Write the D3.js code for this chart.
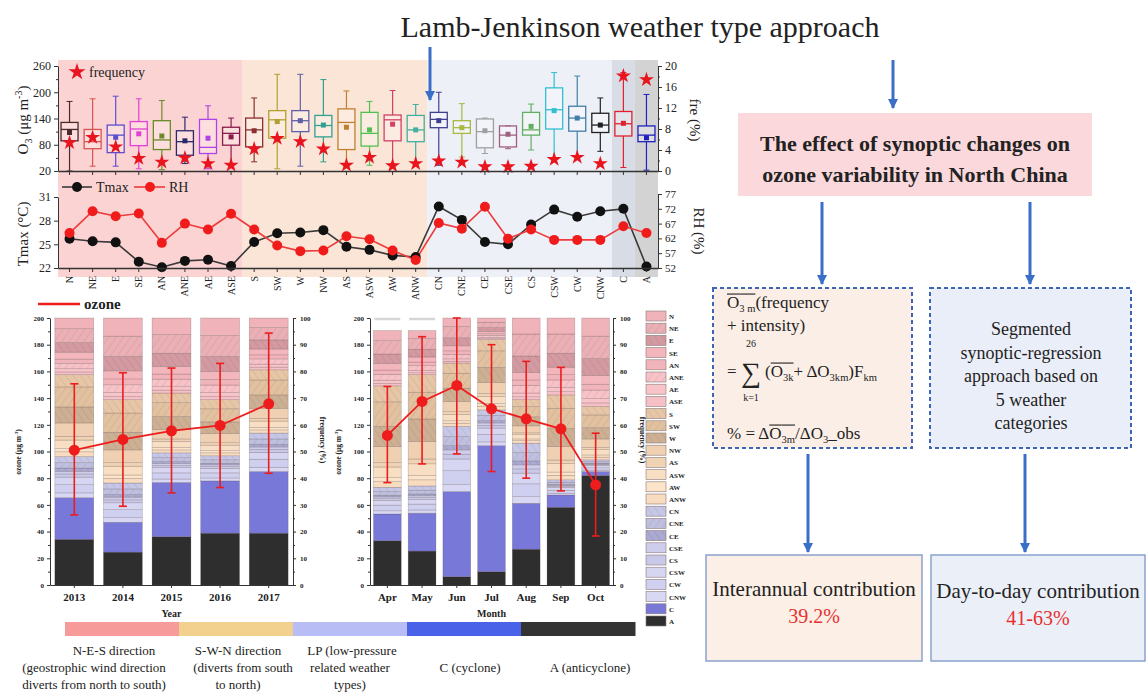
<!DOCTYPE html>
<meta charset="utf-8">
<script src="https://d3js.org/d3.v7.min.js"></script>
<style>
body { margin: 0; background: #fff; }
svg, svg text { font-family: "Liberation Serif", "DejaVu Serif", serif !important; }
svg text { fill: #222; }
.ax path, .ax line { stroke: #333; }
</style>
<body>
<script>

// ---- data ----
var types = ["N","NE","E","SE","AN","ANE","AE","ASE","S","SW","W","NW","AS","ASW","AW","ANW",
             "CN","CNE","CE","CSE","CS","CSW","CW","CNW","C","A"];

// O3 box plots (ug m-3) per weather type
var boxLow  = [20,31,31,25,23,37,25,37,41,25,31,41,30,33,37,37,33,52,60,71,68,48,52,65,28,22];
var boxQ1   = [89,71,62,78,69,56,60,79,75,95,110,98,69,77,89,87,119,106,73,75,102,116,111,108,100,87];
var boxMed  = [115,87,102,116,91,87,74,106,114,137,135,124,131,106,137,114,138,119,110,102,114,160,141,125,128,102];
var boxQ3   = [131,115,125,133,135,112,138,120,141,158,158,147,162,154,148,147,154,135,139,123,154,210,168,152,156,123];
var boxHigh = [179,185,191,185,181,143,169,141,187,241,241,229,203,179,204,172,200,174,141,123,173,245,237,187,245,195];
var boxMean = [108,97,97,105,100,89,95,98,112,133,135,125,120,114,127,114,135,119,112,104,122,158,141,125,129,96];
var typeFreq = [5.4,6.4,4.6,2.4,1.7,2.5,1.4,1.1,4.2,6.2,5.6,4.2,1.1,2.6,1.0,1.4,1.9,1.7,0.8,0.8,0.9,2.2,2.6,1.4,18.1,17.4];

var tmax = [25.7,25.4,25.25,22.8,22.1,22.9,23.05,22.25,25.3,26.4,26.5,26.8,24.7,24.3,23.6,23.4,29.8,28.1,25.3,25.0,27.5,29.4,28.5,29.2,29.5,22.2];
var rh   = [63.8,71.2,69.5,70.4,60.5,67,65,70.3,65,59.6,57.7,57.9,62.7,61.7,57.9,54.7,67.2,65.3,72.7,61.9,65,61.5,61.5,61.5,66.1,63.8];

// yearly frequency (%) of each type, same order as types
var years = ["2013","2014","2015","2016","2017"];
var yearFreq = [
  [4.0,5.2,3.6,2.6,1.6,2.0,1.2,1.0, 4.6,7.5,6.0,5.0,1.4,3.2,1.2,1.8, 2.3,2.0,1.2,1.0,1.2,2.8,3.1,1.8, 15.6,17.1],
  [6.8,7.6,5.4,3.0,2.2,2.9,1.5,1.2, 5.0,7.2,6.6,4.8,1.3,3.3,1.3,1.7, 2.2,2.1,1.0,1.0,1.1,2.6,3.0,1.7, 11.2,12.3],
  [6.2,7.0,5.0,2.8,1.9,2.8,1.3,1.1, 3.6,5.2,4.8,3.6,0.9,2.3,0.9,1.1, 1.8,1.5,0.7,0.7,0.8,2.0,2.3,1.3, 20.3,18.1],
  [6.6,7.8,5.6,3.0,2.1,2.8,1.5,1.2, 3.4,4.9,4.4,3.4,0.9,2.1,0.8,1.1, 1.5,1.3,0.6,0.6,0.7,1.7,1.9,1.1, 19.6,19.4],
  [3.6,4.6,3.4,2.2,1.5,2.0,1.1,1.0, 3.8,5.6,5.0,3.8,1.0,2.4,0.9,1.2, 2.2,2.0,1.0,0.9,1.1,2.6,3.0,1.6, 23.1,19.4]
];
var yearOzone = [101,109,115.5,119.5,135.7];
var yearHi    = [150.7,159,162.5,166,188.7];
var yearLo    = [52.5,59,69,73,83.7];

var months = ["Apr","May","Jun","Jul","Aug","Sep","Oct"];
var monthFreq = [
  [3.8,5.0,3.6,2.4,1.6,2.2,1.2,0.9, 6.0,9.2,7.6,6.0,1.6,4.0,1.5,2.1, 1.6,1.4,0.6,0.6,0.7,1.8,2.1,1.2, 10.0,16.6],
  [3.0,4.0,2.9,1.9,1.3,1.8,0.9,0.7, 6.6,10.0,8.4,6.6,1.8,4.4,1.6,2.3, 1.6,1.4,0.7,0.6,0.7,1.8,2.2,1.2, 14.2,12.7],
  [3.2,4.2,3.0,1.9,1.3,1.7,0.9,0.7, 3.8,5.6,5.0,3.8,1.0,2.4,0.9,1.2, 3.8,3.4,1.6,1.6,1.8,4.4,5.2,2.6, 31.9,3.1],
  [1.6,2.0,1.4,0.9,0.6,0.8,0.4,0.4, 4.2,6.2,5.6,4.2,1.1,2.6,1.0,1.4, 2.1,1.9,0.9,0.9,1.0,2.4,2.8,1.4, 47.2,5.0],
  [6.0,8.2,6.2,2.8,2.0,2.9,1.4,1.1, 2.6,3.8,3.4,2.6,0.7,1.6,0.6,1.0, 3.5,3.1,1.5,1.5,1.6,4.0,4.8,2.5, 17.2,13.4],
  [6.0,7.2,5.2,2.8,2.0,2.8,1.6,1.2, 5.0,7.6,6.8,5.0,1.3,3.2,1.2,1.7, 0.9,0.8,0.4,0.4,0.4,1.0,1.2,0.6, 4.6,29.1],
  [6.8,8.4,6.4,3.2,2.2,3.2,1.6,1.3, 3.2,4.8,4.2,3.2,0.8,2.0,0.8,1.0, 0.7,0.6,0.3,0.3,0.3,0.8,0.9,0.5, 1.5,41.0]
];
var monthOzone = [112,137.5,149.5,132,124.5,117,75];
var monthHi    = [148.7,186,200,180,167.5,163,113.7];
var monthLo    = [76.7,90.7,98.2,85,80,70.5,36.7];

var groupNames = ["N-E-S direction","S-W-N direction","LP (low-pressure","C (cyclone)","A (anticyclone)"];

// ---- styles ----
var SERIF = '"Liberation Serif", "DejaVu Serif", serif';
var boxColor = ["#4a2a2a","#d9534f","#5b4fd0","#e040d8","#6b8a2a","#2a2a6a","#b040e8","#8a1a4a",
                "#8a3030","#b0a030","#6060a8","#30a090","#c08030","#50c050","#d04068","#40b0a0",
                "#404090","#a8b840","#a0a0a0","#a06080","#60b060","#30c0d0","#4080a8","#202020","#e02030","#2020c0"];
var segColor = ["#efb3b9","#eab0b6","#d49aa2","#f3b6bd","#f2b4bb","#f7c2c8","#f8c4ca","#f6c0c7",
                "#e6c6a6","#e2c1a0","#cdb094","#efd0b2","#f0d3b4","#f8dfc3","#fbe4c9","#f7dcc0",
                "#c6c6e6","#bfc0e0","#aaaad2","#ceceec","#c8c8e8","#d6d6f2","#cfcff0","#d8d8f4","#7878d8","#2e2e2e"];
var hatched = {NE:1, E:1, ANE:1, S:1, SW:1, W:1, CN:1, CNE:1, CE:1};

var W = 1146, H = 698;
var svg = d3.select("body").append("svg").attr("width", W).attr("height", H)
    .attr("font-family", SERIF).style("font-family", SERIF);
svg.append("rect").attr("width", W).attr("height", H).attr("fill", "#fff");
var defs = svg.append("defs");

defs.append("marker").attr("id", "arr")
    .attr("viewBox", "0 0 10 10").attr("refX", 9).attr("refY", 5)
    .attr("markerWidth", 3.6).attr("markerHeight", 3.4).attr("orient", "auto")
  .append("path").attr("d", "M0,0L10,5L0,10z").attr("fill", "#3a6fc8");

types.forEach(function(t, i) {
  if (!hatched[t]) return;
  var p = defs.append("pattern").attr("id", "h-" + t)
      .attr("patternUnits", "userSpaceOnUse").attr("width", 6).attr("height", 6)
      .attr("patternTransform", "rotate(" + (i % 2 ? 35 : -35) + ")");
  p.append("rect").attr("width", 6).attr("height", 6).attr("fill", segColor[i]);
  p.append("line").attr("x1", 0).attr("y1", 0).attr("x2", 0).attr("y2", 6)
      .attr("stroke", d3.color(segColor[i]).darker(0.9)).attr("stroke-width", 0.8).attr("opacity", 0.6);
});
function segFill(t) {
  return hatched[t] ? "url(#h-" + t + ")" : segColor[types.indexOf(t)];
}

function arrow(x, y1, y2) {
  svg.append("line").attr("x1", x).attr("x2", x).attr("y1", y1).attr("y2", y2)
     .attr("stroke", "#3a6fc8").attr("stroke-width", 3).attr("marker-end", "url(#arr)");
}
function serif(sel) { sel.selectAll("text").attr("font-family", SERIF).style("font-family", SERIF); }

// ---- title ----
svg.append("text").attr("x", 640).attr("y", 37).attr("text-anchor", "middle")
   .style("font-size", "30px").style("fill", "#222")
   .text("Lamb-Jenkinson  weather type approach");

// ---- top panels ----
var xT = d3.scaleBand().domain(types).range([58, 658]);
var bw = xT.bandwidth();
var yO3 = d3.scaleLinear().domain([20, 260]).range([171, 66]);
var yFr = d3.scaleLinear().domain([0, 20]).range([171, 66]);
var yTm = d3.scaleLinear().domain([22, 31]).range([268, 197]);
var yRH = d3.scaleLinear().domain([52, 77]).range([268, 194]);

var bands = [["N","ASE","#fcd3d3"],["S","ANW","#fbe5d6"],["CN","CNW","#eef0f8"],["C","C","#d8dce5"],["A","A","#d3d3d3"]];
svg.append("g").selectAll("rect").data(bands).join("rect")
   .attr("x", function(d) { return xT(d[0]); })
   .attr("width", function(d) { return xT(d[1]) + bw - xT(d[0]); })
   .attr("y", 60).attr("height", 217)
   .attr("fill", function(d) { return d[2]; });

var boxes = svg.append("g").selectAll("g").data(types).join("g")
   .attr("transform", function(d) { return "translate(" + (xT(d) + bw / 2) + ",0)"; });
boxes.each(function(t, i) {
  var g = d3.select(this), c = boxColor[i], hw = 8.5;
  g.append("line").attr("y1", yO3(boxLow[i])).attr("y2", yO3(boxQ1[i])).attr("stroke", c).attr("stroke-width", 1.2);
  g.append("line").attr("y1", yO3(boxQ3[i])).attr("y2", yO3(boxHigh[i])).attr("stroke", c).attr("stroke-width", 1.2);
  g.append("line").attr("x1", -3).attr("x2", 3).attr("y1", yO3(boxHigh[i])).attr("y2", yO3(boxHigh[i])).attr("stroke", c);
  g.append("line").attr("x1", -3).attr("x2", 3).attr("y1", yO3(boxLow[i])).attr("y2", yO3(boxLow[i])).attr("stroke", c);
  g.append("rect").attr("x", -hw).attr("width", hw * 2)
   .attr("y", yO3(boxQ3[i])).attr("height", yO3(boxQ1[i]) - yO3(boxQ3[i]))
   .attr("fill", "#fff").attr("fill-opacity", 0.25).attr("stroke", c).attr("stroke-width", 1.3);
  g.append("line").attr("x1", -hw).attr("x2", hw).attr("y1", yO3(boxMed[i])).attr("y2", yO3(boxMed[i])).attr("stroke", c).attr("stroke-width", 1.3);
  g.append("rect").attr("x", -2.5).attr("y", yO3(boxMean[i]) - 2.5).attr("width", 5).attr("height", 5).attr("fill", c);
  g.append("path").attr("d", d3.symbol(d3.symbolStar, 70)())
   .attr("transform", "translate(0," + yFr(typeFreq[i]) + ")").attr("fill", "#e8141e");
});

// axes of the box plot panel
svg.append("g").attr("class", "ax").attr("transform", "translate(58,0)")
   .call(d3.axisLeft(yO3).tickValues([20, 80, 140, 200, 260]).tickSize(4).tickSizeOuter(0))
   .call(serif).call(function(g) { g.selectAll("text").style("font-size", "12px"); });
svg.append("g").attr("class", "ax").attr("transform", "translate(58,0)")
   .call(d3.axisLeft(yO3).tickValues([50, 110, 170, 230]).tickSize(2).tickFormat(""))
   .select(".domain").remove();
svg.append("g").attr("class", "ax").attr("transform", "translate(658,0)")
   .call(d3.axisRight(yFr).tickValues([0, 4, 8, 12, 16, 20]).tickSize(4).tickSizeOuter(0))
   .call(serif).call(function(g) { g.selectAll("text").style("font-size", "12px"); });
svg.append("g").attr("class", "ax").attr("transform", "translate(658,0)")
   .call(d3.axisRight(yFr).tickValues([2, 6, 10, 14, 18]).tickSize(2).tickFormat(""))
   .select(".domain").remove();
svg.append("g").attr("class", "ax").attr("transform", "translate(0,171)")
   .call(d3.axisBottom(xT).tickSize(4).tickSizeOuter(0).tickFormat(""))
   .select(".domain").attr("stroke-width", 1.5);

// legend "frequency"
svg.append("path").attr("d", d3.symbol(d3.symbolStar, 90)()).attr("transform", "translate(77,72)").attr("fill", "#e8141e");
svg.append("text").attr("x", 89).attr("y", 77).style("font-size", "14px").text("frequency");

svg.append("text").attr("transform", "translate(28,120) rotate(-90)").attr("text-anchor", "middle")
   .style("font-size", "15px")
   .html('O<tspan dy="4" font-size="10">3</tspan><tspan dy="-4"> (\u03bcg m</tspan><tspan dy="-6" font-size="10">-3</tspan><tspan dy="6">)</tspan>');
svg.append("text").attr("transform", "translate(690,120) rotate(90)").attr("text-anchor", "middle")
   .style("font-size", "15px").text("fre (%)");

// Tmax / RH panel
var lineT = d3.line().x(function(d, i) { return xT(types[i]) + bw / 2; }).y(function(d) { return yTm(d); });
var lineR = d3.line().x(function(d, i) { return xT(types[i]) + bw / 2; }).y(function(d) { return yRH(d); });
svg.append("path").attr("d", lineT(tmax)).attr("fill", "none").attr("stroke", "#3a3a3a").attr("stroke-width", 1.6);
svg.append("path").attr("d", lineR(rh)).attr("fill", "none").attr("stroke", "#ee3b3b").attr("stroke-width", 1.6);
svg.append("g").selectAll("circle").data(tmax).join("circle")
   .attr("cx", function(d, i) { return xT(types[i]) + bw / 2; }).attr("cy", function(d) { return yTm(d); })
   .attr("r", 5).attr("fill", "#111");
svg.append("g").selectAll("circle").data(rh).join("circle")
   .attr("cx", function(d, i) { return xT(types[i]) + bw / 2; }).attr("cy", function(d) { return yRH(d); })
   .attr("r", 5).attr("fill", "#f01c1c");

svg.append("g").attr("class", "ax").attr("transform", "translate(58,0)")
   .call(d3.axisLeft(yTm).tickValues([22, 25, 28, 31]).tickSize(4).tickSizeOuter(0))
   .call(serif).call(function(g) { g.selectAll("text").style("font-size", "12px"); });
svg.append("g").attr("class", "ax").attr("transform", "translate(658,0)")
   .call(d3.axisRight(yRH).tickValues([52, 57, 62, 67, 72, 77]).tickSize(4).tickSizeOuter(0))
   .call(serif).call(function(g) { g.selectAll("text").style("font-size", "11px"); });
svg.append("g").attr("class", "ax").attr("transform", "translate(0,268)")
   .call(d3.axisBottom(xT).tickSize(4).tickSizeOuter(0))
   .call(serif)
   .call(function(g) {
     g.select(".domain").attr("stroke-width", 1.5);
     g.selectAll("text").attr("transform", "rotate(-90)").attr("x", -8).attr("y", 0)
      .attr("dy", "0.35em").style("text-anchor", "end").style("font-size", "10px");
   });

// legend Tmax / RH
svg.append("line").attr("x1", 62).attr("x2", 92).attr("y1", 187).attr("y2", 187).attr("stroke", "#3a3a3a").attr("stroke-width", 1.6);
svg.append("circle").attr("cx", 77).attr("cy", 187).attr("r", 5).attr("fill", "#111");
svg.append("text").attr("x", 96).attr("y", 192).style("font-size", "14px").text("Tmax");
svg.append("line").attr("x1", 134).attr("x2", 165).attr("y1", 187).attr("y2", 187).attr("stroke", "#ee3b3b").attr("stroke-width", 1.6);
svg.append("circle").attr("cx", 150).attr("cy", 187).attr("r", 5).attr("fill", "#f01c1c");
svg.append("text").attr("x", 169).attr("y", 192).style("font-size", "14px").text("RH");

svg.append("text").attr("transform", "translate(28,234) rotate(-90)").attr("text-anchor", "middle")
   .style("font-size", "15px").text("Tmax (\u00b0C)");
svg.append("text").attr("transform", "translate(694,231) rotate(90)").attr("text-anchor", "middle")
   .style("font-size", "15px").text("RH (%)");

// ---- bottom stacked charts ----
var yOz = d3.scaleLinear().domain([0, 200]).range([585, 318]);
var yFq = d3.scaleLinear().domain([0, 100]).range([585, 318]);
var stackKeys = types.slice().reverse();

function stackChart(cats, rows, oz, hi, lo, x0, x1, xTitle, guide) {
  var x = d3.scaleBand().domain(cats).range([x0, x1]).paddingInner(0.2).paddingOuter(0.1);
  var table = cats.map(function(c, j) {
    var o = { cat: c };
    types.forEach(function(t, i) { o[t] = rows[j][i]; });
    return o;
  });
  var series = d3.stack().keys(stackKeys)(table);
  var g = svg.append("g");
  if (guide) {
    g.selectAll("line.guide").data(guide).join("line")
     .attr("x1", function(c) { return x(c) + 1; }).attr("x2", function(c) { return x(c) + x.bandwidth() - 1; })
     .attr("y1", yOz(200) + 1).attr("y2", yOz(200) + 1).attr("stroke", "#d6d6d6").attr("stroke-width", 2.5);
  }
  g.selectAll("g.s").data(series).join("g")
   .attr("fill", function(s) { return segFill(s.key); })
   .selectAll("rect").data(function(s) { return s; }).join("rect")
   .attr("x", function(d) { return x(d.data.cat); }).attr("width", x.bandwidth())
   .attr("y", function(d) { return yFq(d[1]); })
   .attr("height", function(d) { return yFq(d[0]) - yFq(d[1]); })
   .attr("stroke", "#5a4444").attr("stroke-opacity", 0.35).attr("stroke-width", 0.6);

  // axes
  g.append("g").attr("class", "ax").attr("transform", "translate(" + x0 + ",0)")
   .call(d3.axisLeft(yOz).tickValues(d3.range(0, 201, 20)).tickSize(3).tickSizeOuter(0))
   .call(serif).call(function(a) { a.selectAll("text").style("font-size", "7px").style("font-weight", "bold"); });
  g.append("g").attr("class", "ax").attr("transform", "translate(" + x0 + ",0)")
   .call(d3.axisLeft(yOz).tickValues(d3.range(10, 200, 20)).tickSize(2).tickFormat("")).select(".domain").remove();
  g.append("g").attr("class", "ax").attr("transform", "translate(" + x1 + ",0)")
   .call(d3.axisRight(yFq).tickValues(d3.range(0, 101, 10)).tickSize(3).tickSizeOuter(0))
   .call(serif).call(function(a) { a.selectAll("text").style("font-size", "7px").style("font-weight", "bold").attr("x", 7); });
  g.append("g").attr("class", "ax").attr("transform", "translate(" + x1 + ",0)")
   .call(d3.axisRight(yFq).tickValues(d3.range(5, 100, 10)).tickSize(2).tickFormat("")).select(".domain").remove();
  g.append("g").attr("class", "ax").attr("transform", "translate(0,585)")
   .call(d3.axisBottom(x).tickSize(3).tickSizeOuter(0))
   .call(serif).call(function(a) { a.selectAll("text").style("font-size", "11px").style("font-weight", "bold").attr("y", 8); });

  g.append("text").attr("x", (x0 + x1) / 2).attr("y", 617).attr("text-anchor", "middle")
   .style("font-size", "10px").style("font-weight", "bold").text(xTitle);
  g.append("text").attr("transform", "translate(" + (x0 - 29) + ",452) rotate(-90)").attr("text-anchor", "middle")
   .style("font-size", "7.5px").style("font-weight", "bold")
   .html('ozone (\u03bcg m<tspan dy="-3" font-size="5">-3</tspan><tspan dy="3">)</tspan>');
  g.append("text").attr("transform", "translate(" + (x1 + 27) + ",440) rotate(90)").attr("text-anchor", "middle")
   .style("font-size", "7.5px").style("font-weight", "bold").text("frequency (%)");

  // ozone line with error bars
  var cx = function(c) { return x(c) + x.bandwidth() / 2; };
  g.selectAll("line.err").data(cats).join("line")
   .attr("x1", cx).attr("x2", cx)
   .attr("y1", function(c, j) { return yOz(hi[j]); }).attr("y2", function(c, j) { return yOz(lo[j]); })
   .attr("stroke", "#ee1c1c").attr("stroke-width", 1.6);
  [hi, lo].forEach(function(arr) {
    g.selectAll(null).data(cats).join("line")
     .attr("x1", function(c) { return cx(c) - 4; }).attr("x2", function(c) { return cx(c) + 4; })
     .attr("y1", function(c, j) { return yOz(arr[j]); }).attr("y2", function(c, j) { return yOz(arr[j]); })
     .attr("stroke", "#ee1c1c").attr("stroke-width", 1.6);
  });
  g.append("path").datum(oz)
   .attr("d", d3.line().x(function(d, j) { return cx(cats[j]); }).y(function(d) { return yOz(d); }))
   .attr("fill", "none").attr("stroke", "#ee1c1c").attr("stroke-width", 1.8);
  g.selectAll("circle").data(oz).join("circle")
   .attr("cx", function(d, j) { return cx(cats[j]); }).attr("cy", function(d) { return yOz(d); })
   .attr("r", 5.5).attr("fill", "#ee1c1c");
}

stackChart(years, yearFreq, yearOzone, yearHi, yearLo, 50, 293, "Year", null);
stackChart(months, monthFreq, monthOzone, monthHi, monthLo, 370, 613, "Month", ["Apr", "May"]);

// ozone legend
svg.append("line").attr("x1", 38).attr("x2", 80).attr("y1", 304).attr("y2", 304).attr("stroke", "#ee1c1c").attr("stroke-width", 2.5);
svg.append("text").attr("x", 84).attr("y", 309).style("font-size", "15px").style("font-weight", "bold").text("ozone");

// type legend
var leg = svg.append("g").selectAll("g").data(types).join("g")
   .attr("transform", function(d, i) { return "translate(646," + (311 + i * 12.2) + ")"; });
leg.append("rect").attr("width", 20).attr("height", 10)
   .attr("fill", function(d) { return segFill(d); }).attr("stroke", "#8a7a7a").attr("stroke-width", 0.6);
leg.append("text").attr("x", 23).attr("y", 8).style("font-size", "7px").style("font-weight", "bold")
   .text(function(d) { return d; });

// category colour bar
var barCols = ["#f79a9a", "#f2d08e", "#b8bef5", "#4a62e8", "#333333"];
var xBar = d3.scaleBand().domain(groupNames).range([65, 635]);
svg.append("g").selectAll("rect").data(groupNames).join("rect")
   .attr("x", function(d) { return xBar(d); }).attr("width", xBar.bandwidth() + 0.5)
   .attr("y", 622).attr("height", 14).attr("fill", function(d, i) { return barCols[i]; });
var barText = [
  [["N-E-S direction", 114, 655], ["(geostrophic wind direction", 94, 672], ["diverts from north to south)", 94, 689]],
  [["S-W-N direction", 238, 655], ["(diverts from south", 243, 672], ["to north)", 238, 689]],
  [["LP (low-pressure", 352, 655], ["related weather", 350, 672], ["types)", 350, 689]],
  [["C (cyclone)", 470, 672]],
  [["A (anticyclone)", 590, 672]]
];
barText.forEach(function(lines) {
  lines.forEach(function(l) {
    svg.append("text").attr("x", l[1]).attr("y", l[2]).attr("text-anchor", "middle")
       .style("font-size", "13px").text(l[0]);
  });
});

// ---- flow chart on the right ----
arrow(430, 47, 100);
arrow(893, 60, 108);

svg.append("rect").attr("x", 738).attr("y", 113).attr("width", 354).attr("height", 83).attr("fill", "#fad8db");
svg.append("text").attr("x", 915).attr("y", 151).attr("text-anchor", "middle")
   .style("font-size", "22px").style("font-weight", "bold").text("The effect of synoptic changes on");
svg.append("text").attr("x", 915).attr("y", 182).attr("text-anchor", "middle")
   .style("font-size", "22px").style("font-weight", "bold").text("ozone variability in North China");

arrow(822, 202, 284);
arrow(1030, 202, 284);

svg.append("rect").attr("x", 713).attr("y", 288).attr("width", 199).attr("height", 160)
   .attr("fill", "#fbeee6").attr("stroke", "#3a66b5").attr("stroke-width", 2).attr("stroke-dasharray", "4,3");
svg.append("rect").attr("x", 930).attr("y", 288).attr("width", 201).attr("height", 160)
   .attr("fill", "#eaeef8").attr("stroke", "#3a66b5").attr("stroke-width", 2).attr("stroke-dasharray", "4,3");

function rich(x, y, segs, size) {
  var cx = x;
  segs.forEach(function(s) {
    var fs = s.sub ? size * 0.62 : size;
    var t = svg.append("text").attr("x", cx).attr("y", y + (s.sub ? size * 0.25 : 0))
       .style("font-size", fs + "px").text(s.t);
    var w = t.node().getComputedTextLength();
    if (s.over) {
      svg.append("line").attr("x1", cx).attr("x2", cx + w).attr("y1", y - size * 0.82).attr("y2", y - size * 0.82)
         .attr("stroke", "#333").attr("stroke-width", 1.2);
    }
    cx += w;
  });
}
var fs = 17;
rich(727, 308, [{t: "O", over: 1}, {t: "3 m", sub: 1, over: 1}, {t: "(frequency"}], fs);
rich(727, 331, [{t: "+ intensity)"}], fs);
svg.append("text").attr("x", 751).attr("y", 347).attr("text-anchor", "middle").style("font-size", "10px").text("26");
svg.append("text").attr("x", 727).attr("y", 377).style("font-size", fs + "px").text("=");
svg.append("text").attr("x", 751).attr("y", 382).attr("text-anchor", "middle").style("font-size", "28px").text("\u2211");
svg.append("text").attr("x", 751).attr("y", 401).attr("text-anchor", "middle").style("font-size", "10px").text("k=1");
rich(765, 377, [{t: "("}, {t: "O", over: 1}, {t: "3k", sub: 1, over: 1}, {t: " + \u0394O"}, {t: "3km", sub: 1},
                {t: ")F"}, {t: "km", sub: 1}], fs);
rich(727, 439, [{t: "% = \u0394"}, {t: "O", over: 1}, {t: "3m", sub: 1, over: 1}, {t: "/\u0394O"}, {t: "3", sub: 1}, {t: "_obs"}], fs);

["Segmented", "synoptic-regression", "approach based on", "5 weather", "categories"].forEach(function(s, i) {
  svg.append("text").attr("x", 1031).attr("y", 335 + i * 23.5).attr("text-anchor", "middle")
     .style("font-size", "18px").text(s);
});

arrow(808, 454, 552);
arrow(1025, 454, 552);

svg.append("rect").attr("x", 706).attr("y", 555).attr("width", 216).attr("height", 106)
   .attr("fill", "#fcefe6").attr("stroke", "#8aa2cf").attr("stroke-width", 1.5);
svg.append("rect").attr("x", 931).attr("y", 555).attr("width", 214).attr("height", 106)
   .attr("fill", "#ebeff8").attr("stroke", "#8aa2cf").attr("stroke-width", 1.5);
svg.append("text").attr("x", 814).attr("y", 596).attr("text-anchor", "middle").style("font-size", "21px").text("Interannual contribution");
svg.append("text").attr("x", 814).attr("y", 623).attr("text-anchor", "middle").style("font-size", "20px").style("fill", "#e83030").text("39.2%");
svg.append("text").attr("x", 1038).attr("y", 598).attr("text-anchor", "middle").style("font-size", "21px").text("Day-to-day contribution");
svg.append("text").attr("x", 1038).attr("y", 625).attr("text-anchor", "middle").style("font-size", "20px").style("fill", "#e83030").text("41-63%");

</script>
